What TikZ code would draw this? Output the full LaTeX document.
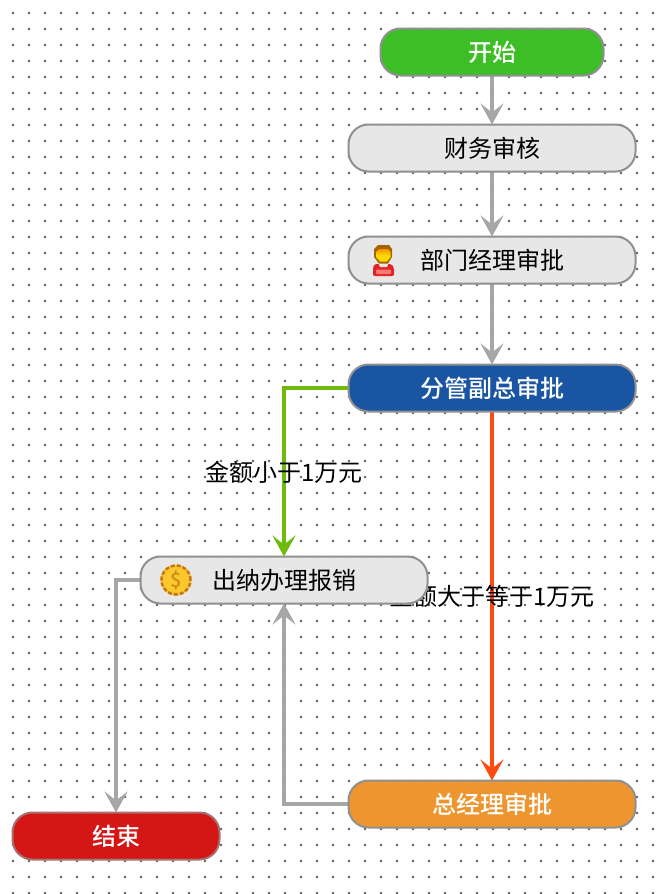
\documentclass[tikz,border=0pt]{standalone}
\usepackage{fontspec}
\setmainfont{Noto Sans CJK SC}
\newfontfamily\semib{Noto Sans CJK SC Medium}
\usetikzlibrary{arrows.meta,backgrounds}
\definecolor{dotc}{HTML}{5E5E5E}
\definecolor{edgegray}{HTML}{A6A6A6}
\definecolor{edgegreen}{HTML}{6FBB0B}
\definecolor{edgeorange}{HTML}{FF4B12}
\definecolor{bord}{HTML}{909090}
\definecolor{pale}{HTML}{E7E7E7}
\definecolor{startc}{RGB}{61,189,38}
\definecolor{fenc}{RGB}{26,85,163}
\definecolor{zongc}{RGB}{237,150,48}
\definecolor{endc}{RGB}{212,22,20}
\definecolor{endb}{RGB}{165,115,110}
\definecolor{hairc}{RGB}{165,100,0}
\definecolor{facec}{RGB}{255,215,0}
\definecolor{faced}{RGB}{240,150,0}
\definecolor{bodyc}{RGB}{225,35,35}
\definecolor{bodyl}{RGB}{250,120,120}
\definecolor{coinr}{RGB}{200,115,25}
\definecolor{coinf}{RGB}{250,200,45}
\definecolor{coint}{RGB}{205,140,25}
\pgfdeclarelayer{dots}
\pgfdeclarelayer{edges}
\pgfdeclarelayer{labels}
\pgfsetlayers{dots,edges,labels,main}
\tikzset{
 flow/.style={rounded corners=20pt,draw=bord,line width=2pt,minimum height=47pt,minimum width=287pt,inner sep=0pt,outer sep=0pt,font=\fontsize{24}{28}\selectfont},
 plain/.style={flow,fill=pale,text=black},
 strong/.style={flow,text=white,font=\fontsize{24}{28}\semib},
 conn/.style={line width=4pt,-{Stealth[length=21pt,width=23pt,inset=9pt]}},
 lab/.style={inner sep=0pt,text=black,font=\fontsize{24}{28}\selectfont},
}
\begin{document}
\begin{tikzpicture}[x=1pt,y=-1pt]
\useasboundingbox (0,0) rectangle (662,894);
\begin{pgfonlayer}{dots}
\fill[white] (0,0) rectangle (662,894);
\foreach \i in {0,...,40}{\foreach \j in {0,...,55}{
  \fill[dotc] ({13+16*\i},{13+16*\j}) circle[radius=1.4pt];}}
\end{pgfonlayer}

\node[strong,fill=startc,minimum width=223pt] (start) at (492,52) {开始};
\node[plain] (caiwu) at (492,148) {财务审核};
\node[plain] (bumen) at (492,260) {部门经理审批};
\node[strong,fill=fenc] (fenguan) at (492,388) {分管副总审批};
\node[plain] (chuna) at (284,580) {出纳办理报销};
\node[strong,fill=zongc] (zong) at (492,804) {总经理审批};
\node[strong,fill=endc,draw=endb,minimum width=207pt] (jieshu) at (116,836) {结束};

% person icon
\fill[bodyc,rounded corners=2pt] (374,264) -- (392,264) -- (394,268) -- (394,276) -- (373,276) -- (373,268) -- cycle;
\fill[bodyl,rounded corners=1pt] (376,269.5) rectangle (391,274);
\fill[pale] (378,262) -- (389,262) -- (387,267) -- (380,267) -- cycle;
\fill[hairc] (378,245) -- (389,245) -- (392,249) -- (392,257) -- (388,263.5) -- (379,263.5) -- (374,257) -- (374,249) -- cycle;
\shade[top color=faced,bottom color=facec,middle color=facec] (379,249) -- (388,249) -- (390.5,252) -- (390.5,257) -- (387,261.5) -- (380,261.5) -- (376,257) -- (376,252) -- cycle;

% coin icon
\fill[coinf] (176,580) circle[radius=15.5pt];
\draw[coinr,line width=2.5pt,dash pattern=on 4pt off 2pt] (176,580) circle[radius=14.5pt];
\node[inner sep=0pt,text=coint,font=\fontsize{20}{20}\semib] (coinmark) at (176,580) {\$};

\begin{pgfonlayer}{edges}
\draw[conn,edgegray] (start) -- (caiwu);
\draw[conn,edgegray] (caiwu) -- (bumen);
\draw[conn,edgegray] (bumen) -- (fenguan);
\draw[conn,edgegreen] (fenguan.west) -| (chuna.north);
\draw[conn,edgeorange] (fenguan.south) -- (zong.north);
\draw[conn,edgegray] (zong.west) -| (chuna.south);
\draw[conn,edgegray] (chuna.west) -| (jieshu.north);
\end{pgfonlayer}
\begin{pgfonlayer}{labels}
\node[lab] (small) at (284,472) {金额小于1万元};
\node[lab] (big) at (492,596) {金额大于等于1万元};
\end{pgfonlayer}
\end{tikzpicture}
\end{document}
